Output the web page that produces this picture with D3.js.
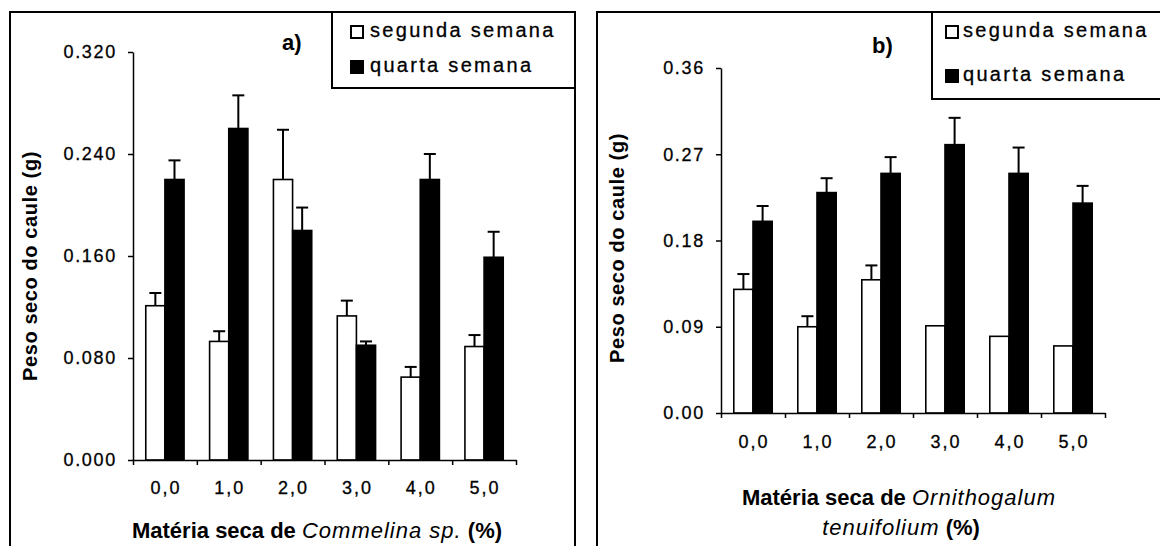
<!DOCTYPE html>
<html lang="pt">
<head>
<meta charset="UTF-8">
<title>Peso seco do caule</title>
<style>
  body { margin: 0; background: #fff; }
  svg { display: block; font-family: "Liberation Sans", Arial, sans-serif; }
  .axis path, .axis line { stroke: #000; stroke-width: 1.5px; }
  .axis text { fill: #000; font-size: 18px; letter-spacing: 1.7px; stroke: #000; stroke-width: 0.3px; }
  .heavy { stroke: #000; stroke-width: 0.3px; }
</style>
</head>
<body>
<script src="https://d3js.org/d3.v7.min.js"></script>
<script>
// doses of dry matter (%)
const doses = ["0,0", "1,0", "2,0", "3,0", "4,0", "5,0"];
const series = ["segunda semana", "quarta semana"];

// a) Commelina sp.
const commelinaSegunda    = [0.121, 0.093, 0.220, 0.113, 0.065, 0.089];
const commelinaSegundaErr = [0.010, 0.008, 0.039, 0.012, 0.008, 0.009];
const commelinaQuarta     = [0.220, 0.260, 0.180, 0.090, 0.220, 0.159];
const commelinaQuartaErr  = [0.015, 0.026, 0.018, 0.003, 0.020, 0.020];
const ticksA = [0, 0.08, 0.16, 0.24, 0.32];

// b) Ornithogalum tenuifolium
const ornithoSegunda    = [0.129, 0.090, 0.139, 0.091, 0.080, 0.070];
const ornithoSegundaErr = [0.016, 0.011, 0.015, 0, 0, 0];
const ornithoQuarta     = [0.200, 0.230, 0.250, 0.280, 0.250, 0.219];
const ornithoQuartaErr  = [0.016, 0.015, 0.017, 0.028, 0.027, 0.018];
const ticksB = [0, 0.09, 0.18, 0.27, 0.36];

const svg = d3.select("body").append("svg")
    .attr("width", 1160)
    .attr("height", 546);

function drawPanel(p) {
  const g = svg.append("g");

  // outer frame (runs off the bottom of the picture)
  g.append("rect")
      .attr("x", p.frame[0]).attr("y", p.frame[1])
      .attr("width", p.frame[2] - p.frame[0]).attr("height", 600)
      .attr("fill", "none").attr("stroke", "#000").attr("stroke-width", 2);

  const x = d3.scaleBand().domain(doses).range([p.x0, p.x1]);
  const xb = d3.scaleLinear().domain([0, doses.length]).range([p.x0, p.x1]);
  const inner = d3.scaleBand().domain(series).range([0, x.bandwidth() * 0.6]);
  const off = x.bandwidth() * 0.2;
  const y = d3.scaleLinear().domain([0, p.max]).range([p.y0, p.y1]);

  // bars + error bars
  series.forEach((s, si) => {
    const vals = p.values[si], errs = p.errors[si];
    const cx = d => x(d) + off + inner(s) + inner.bandwidth() / 2;
    const top = d => y(vals[doses.indexOf(d)] + errs[doses.indexOf(d)]);
    g.append("g").selectAll("rect").data(doses).join("rect")
        .attr("x", d => x(d) + off + inner(s))
        .attr("y", (d, i) => y(vals[i]))
        .attr("width", inner.bandwidth())
        .attr("height", (d, i) => y(0) - y(vals[i]))
        .attr("fill", si ? "#000" : "#fff")
        .attr("stroke", "#000")
        .attr("stroke-width", 1.6);
    const eb = g.append("g").attr("stroke", "#000").attr("stroke-width", 2)
      .selectAll("g").data(doses.filter((d, i) => errs[i] > 0)).join("g");
    eb.append("line")
        .attr("x1", cx).attr("x2", cx)
        .attr("y1", d => y(vals[doses.indexOf(d)]))
        .attr("y2", top);
    eb.append("line")
        .attr("x1", d => cx(d) - 6).attr("x2", d => cx(d) + 6)
        .attr("y1", top).attr("y2", top);
  });

  // y axis
  g.append("g").attr("class", "axis")
      .attr("transform", `translate(${p.x0},0)`)
      .call(d3.axisLeft(y).tickValues(p.ticks).tickFormat(d3.format(p.fmt))
        .tickSize(5).tickSizeOuter(0).tickPadding(11));

  // x axis: ticks between groups, labels under the groups
  g.append("g").attr("class", "axis")
      .attr("transform", `translate(0,${p.y0})`)
      .call(d3.axisBottom(xb).tickValues(d3.range(doses.length + 1)).tickFormat("")
        .tickSize(5).tickSizeOuter(0));
  g.append("g").attr("class", "heavy").selectAll("text").data(doses).join("text")
      .attr("x", d => x(d) + x.bandwidth() / 2 + 1)
      .attr("y", p.labelY)
      .attr("text-anchor", "middle")
      .attr("font-size", 18).attr("letter-spacing", "2px")
      .text(d => d);

  // y title
  g.append("text")
      .attr("transform", `translate(${p.yTitle[0]},${p.yTitle[1]}) rotate(-90)`)
      .attr("text-anchor", "middle").attr("dominant-baseline", "central")
      .attr("font-weight", "bold").attr("font-size", 20).attr("letter-spacing", "0.6px")
      .text(p.yTitleText);

  // x title
  p.xTitle.forEach(line => {
    const t = g.append("text")
        .attr("x", line.x).attr("y", line.y)
        .attr("text-anchor", "middle").attr("font-size", 22);
    line.parts.forEach(([txt, it]) => {
      t.append("tspan")
          .attr("font-weight", it ? "normal" : "bold")
          .attr("font-style", it ? "italic" : "normal")
          .attr("letter-spacing", it ? "1px" : "0px")
          .text(txt);
    });
  });

  // panel letter
  g.append("text")
      .attr("x", p.letter[0]).attr("y", p.letter[1])
      .attr("font-weight", "bold").attr("font-size", 22)
      .text(p.letterText);

  // legend
  const L = p.legend;
  g.append("rect")
      .attr("x", L.box[0]).attr("y", L.box[1])
      .attr("width", L.box[2] - L.box[0]).attr("height", L.box[3] - L.box[1])
      .attr("fill", "#fff").attr("stroke", "#000").attr("stroke-width", 2);
  const li = g.append("g").selectAll("g").data(series).join("g")
      .attr("transform", (d, i) => `translate(${L.sx},${L.rows[i]})`);
  li.append("rect")
      .attr("x", 0).attr("y", -11).attr("width", 12).attr("height", 12)
      .attr("fill", (d, i) => i ? "#000" : "#fff")
      .attr("stroke", "#000").attr("stroke-width", 2);
  li.append("text")
      .attr("class", "heavy")
      .attr("x", L.tx - L.sx).attr("y", 0)
      .attr("font-size", 20).attr("letter-spacing", "2.3px")
      .text(d => d);
}

drawPanel({
  frame: [10, 12, 575],
  x0: 133, x1: 516, y0: 460, y1: 52, max: 0.32,
  ticks: ticksA, fmt: ".3f",
  values: [commelinaSegunda, commelinaQuarta],
  errors: [commelinaSegundaErr, commelinaQuartaErr],
  labelY: 494,
  yTitle: [30, 266], yTitleText: "Peso seco do caule  (g)",
  xTitle: [{ x: 317, y: 538, parts: [["Matéria seca de ", false], ["Commelina sp.", true], [" (%)", false]] }],
  letter: [282, 50], letterText: "a)",
  legend: { box: [332, 12, 575, 88], sx: 351, tx: 370, rows: [37, 72] }
});

drawPanel({
  frame: [597, 12, 1175],
  x0: 721, x1: 1105, y0: 413, y1: 68, max: 0.36,
  ticks: ticksB, fmt: ".2f",
  values: [ornithoSegunda, ornithoQuarta],
  errors: [ornithoSegundaErr, ornithoQuartaErr],
  labelY: 448,
  yTitle: [617, 248], yTitleText: "Peso seco do caule (g)",
  xTitle: [
    { x: 899, y: 505, parts: [["Matéria seca de ", false], ["Ornithogalum", true]] },
    { x: 901, y: 535, parts: [["tenuifolium", true], ["  (%)", false]] }
  ],
  letter: [872, 53], letterText: "b)",
  legend: { box: [932, 12, 1175, 99], sx: 946, tx: 963, rows: [37, 81] }
});
</script>
</body>
</html>
